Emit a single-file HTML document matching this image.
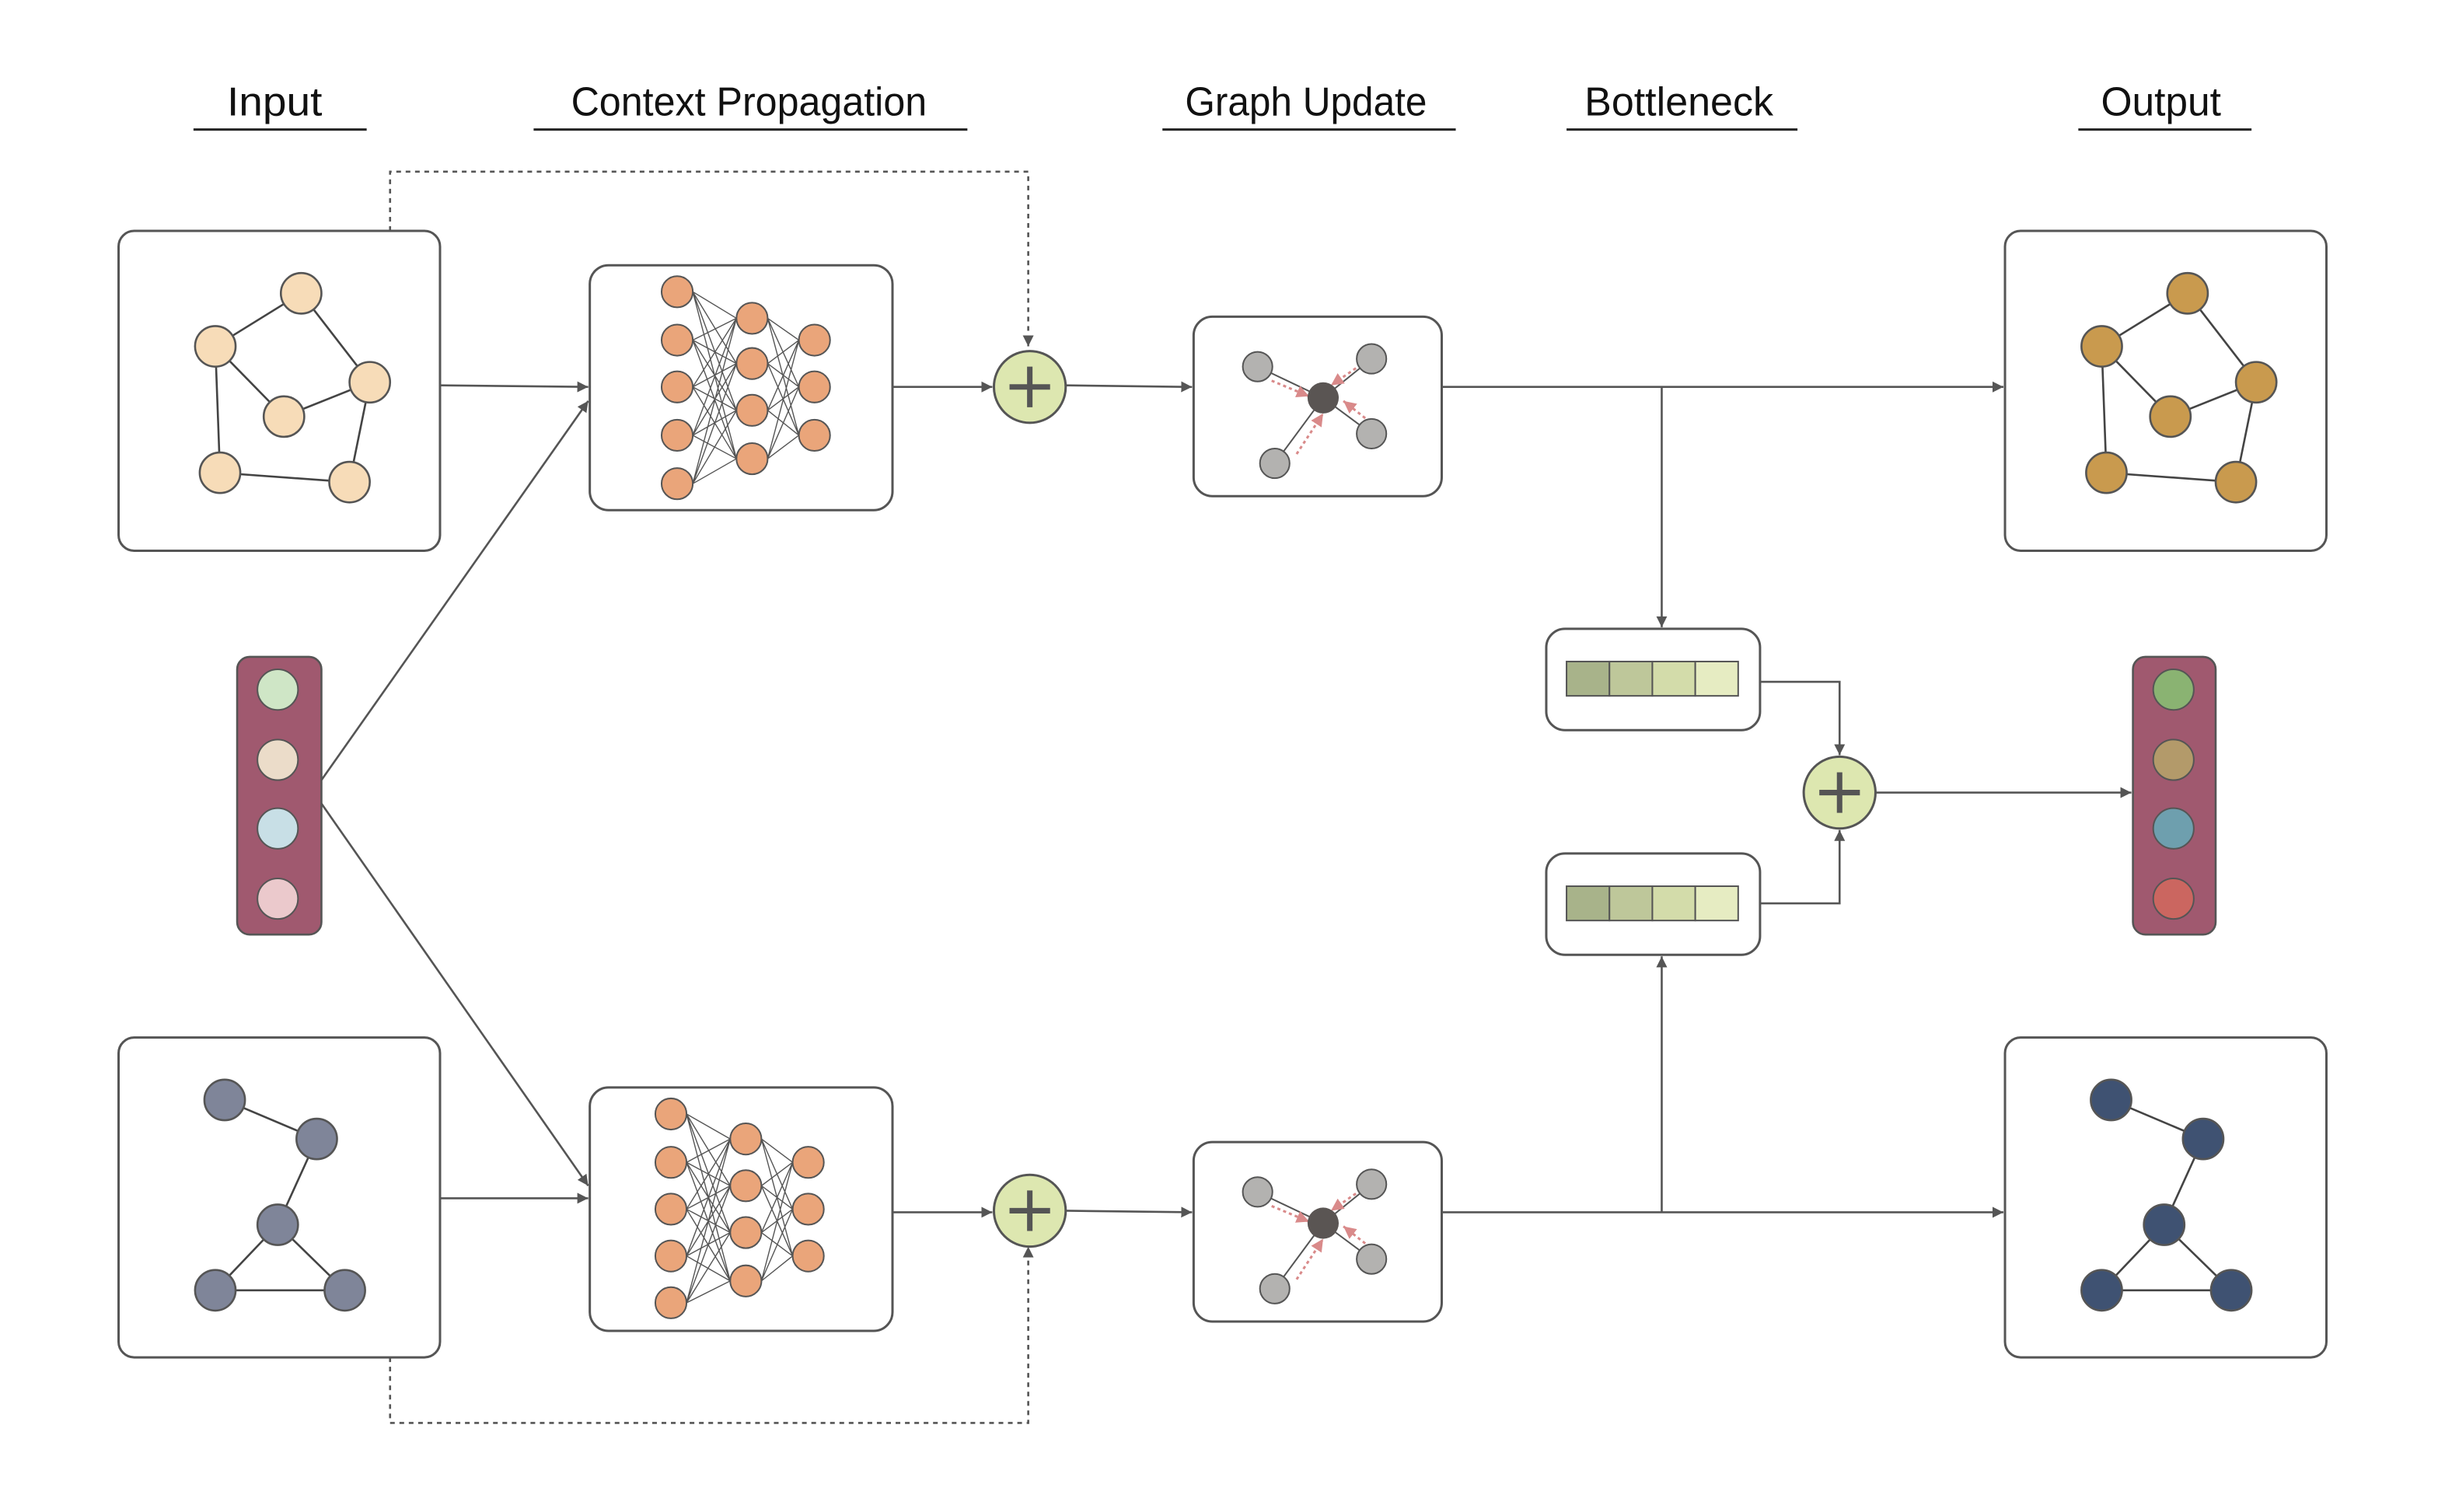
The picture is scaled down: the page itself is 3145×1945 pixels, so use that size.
<!DOCTYPE html>
<html><head><meta charset="utf-8"><style>html,body{margin:0;padding:0;background:#fff;}svg{display:block}</style></head>
<body>
<svg width="3145" height="1945" viewBox="0 0 1567 969.1" xmlns="http://www.w3.org/2000/svg">
<defs>
<marker id="a" viewBox="0 0 10 10" refX="10" refY="5" markerWidth="7" markerHeight="7" markerUnits="userSpaceOnUse" orient="auto"><path d="M0,0L10,5L0,10z" fill="#555"/></marker>
<marker id="r" viewBox="0 0 10 10" refX="10" refY="5" markerWidth="8" markerHeight="8" markerUnits="userSpaceOnUse" orient="auto"><path d="M0,0L10,5L0,10z" fill="#d98a8a"/></marker>
</defs>
<g font-family="'Liberation Sans Narrow','Liberation Sans',sans-serif" font-size="26" fill="#111" text-anchor="middle">
<text x="176" y="74" textLength="61" lengthAdjust="spacingAndGlyphs">Input</text>
<text x="480" y="74" textLength="228" lengthAdjust="spacingAndGlyphs">Context Propagation</text>
<text x="837" y="74" textLength="155" lengthAdjust="spacingAndGlyphs">Graph Update</text>
<text x="1076" y="74" textLength="121" lengthAdjust="spacingAndGlyphs">Bottleneck</text>
<text x="1385" y="74" textLength="77" lengthAdjust="spacingAndGlyphs">Output</text>
</g>
<g stroke="#222" stroke-width="1.5">
<line x1="124" y1="83" x2="235" y2="83"/><line x1="342" y1="83" x2="620" y2="83"/><line x1="745" y1="83" x2="933" y2="83"/><line x1="1004" y1="83" x2="1152" y2="83"/><line x1="1332" y1="83" x2="1443" y2="83"/>
</g>
<g stroke="#555" stroke-width="1.3" fill="none">
<path d="M250,148V110H659V222" stroke-dasharray="3,3" marker-end="url(#a)"/>
<path d="M250,870V912H659V799" stroke-dasharray="3,3" marker-end="url(#a)"/>
<line x1="282" y1="247" x2="377" y2="248" marker-end="url(#a)"/>
<line x1="206" y1="500" x2="377" y2="257" marker-end="url(#a)"/>
<line x1="206" y1="515" x2="377" y2="760" marker-end="url(#a)"/>
<line x1="282" y1="768" x2="377" y2="768" marker-end="url(#a)"/>
<line x1="572" y1="248" x2="636" y2="248" marker-end="url(#a)"/>
<line x1="572" y1="777" x2="636" y2="777" marker-end="url(#a)"/>
<line x1="683" y1="247" x2="764" y2="248" marker-end="url(#a)"/>
<line x1="683" y1="776" x2="764" y2="777" marker-end="url(#a)"/>
<line x1="924" y1="248" x2="1284" y2="248" marker-end="url(#a)"/>
<line x1="924" y1="777" x2="1284" y2="777" marker-end="url(#a)"/>
<line x1="1065" y1="248" x2="1065" y2="402" marker-end="url(#a)"/>
<line x1="1065" y1="777" x2="1065" y2="613" marker-end="url(#a)"/>
<path d="M1128,437H1179V484" marker-end="url(#a)"/>
<path d="M1128,579H1179V532" marker-end="url(#a)"/>
<line x1="1202" y1="508" x2="1366" y2="508" marker-end="url(#a)"/>
</g>
<g fill="#fff" stroke="#555" stroke-width="1.5">
<rect x="76" y="148" width="206" height="205" rx="10"/>
<rect x="76" y="665" width="206" height="205" rx="10"/>
<rect x="1285" y="148" width="206" height="205" rx="10"/>
<rect x="1285" y="665" width="206" height="205" rx="10"/>
<rect x="378" y="170" width="194" height="157" rx="12"/>
<rect x="378" y="697" width="194" height="156" rx="12"/>
<rect x="765" y="203" width="159" height="115" rx="12"/>
<rect x="765" y="732" width="159" height="115" rx="12"/>
<rect x="991" y="403" width="137" height="65" rx="12"/>
<rect x="991" y="547" width="137" height="65" rx="12"/>
</g>
<g stroke="#444" stroke-width="1.3">
<path d="M193,188L138,222M193,188L237,245M138,222L182,267M182,267L237,245M138,222L141,303M141,303L224,309M237,245L224,309"/>
<path transform="translate(1209,0)" d="M193,188L138,222M193,188L237,245M138,222L182,267M182,267L237,245M138,222L141,303M141,303L224,309M237,245L224,309"/>
<path d="M144,705L203,730M203,730L178,785M178,785L138,827M178,785L221,827M138,827L221,827"/>
<path transform="translate(1209,0)" d="M144,705L203,730M203,730L178,785M178,785L138,827M178,785L221,827M138,827L221,827"/>
</g>
<g stroke="#555" stroke-width="1.3" fill="#f7dcb8">
<circle cx="193" cy="188" r="13"/><circle cx="138" cy="222" r="13"/><circle cx="237" cy="245" r="13"/><circle cx="182" cy="267" r="13"/><circle cx="141" cy="303" r="13"/><circle cx="224" cy="309" r="13"/>
</g>
<g stroke="#555" stroke-width="1.3" fill="#c99a4e" transform="translate(1209,0)">
<circle cx="193" cy="188" r="13"/><circle cx="138" cy="222" r="13"/><circle cx="237" cy="245" r="13"/><circle cx="182" cy="267" r="13"/><circle cx="141" cy="303" r="13"/><circle cx="224" cy="309" r="13"/>
</g>
<g stroke="#555" stroke-width="1.3" fill="#7f8599">
<circle cx="144" cy="705" r="13"/><circle cx="203" cy="730" r="13"/><circle cx="178" cy="785" r="13"/><circle cx="138" cy="827" r="13"/><circle cx="221" cy="827" r="13"/>
</g>
<g stroke="#555" stroke-width="1.3" fill="#3f5272" transform="translate(1209,0)">
<circle cx="144" cy="705" r="13"/><circle cx="203" cy="730" r="13"/><circle cx="178" cy="785" r="13"/><circle cx="138" cy="827" r="13"/><circle cx="221" cy="827" r="13"/>
</g>
<rect x="152" y="421" width="54" height="178" rx="8" fill="#a0596f" stroke="#555" stroke-width="1.3"/>
<g stroke="#555" stroke-width="1"><circle cx="178" cy="442" r="13" fill="#cfe6c6"/><circle cx="178" cy="487" r="13" fill="#ebdcc9"/><circle cx="178" cy="531" r="13" fill="#c8dfe6"/><circle cx="178" cy="576" r="13" fill="#ebc9cc"/></g>
<rect x="1367" y="421" width="53" height="178" rx="8" fill="#a0596f" stroke="#555" stroke-width="1.3"/>
<g stroke="#555" stroke-width="1"><circle cx="1393" cy="442" r="13" fill="#8ab372"/><circle cx="1393" cy="487" r="13" fill="#b39a6a"/><circle cx="1393" cy="531" r="13" fill="#6e9fae"/><circle cx="1393" cy="576" r="13" fill="#cb6660"/></g>
<g stroke="#555" stroke-width="0.7">
<path d="M444,187L472,204M444,187L472,233M444,187L472,263M444,187L472,294M444,218L472,204M444,218L472,233M444,218L472,263M444,218L472,294M444,248L472,204M444,248L472,233M444,248L472,263M444,248L472,294M444,279L472,204M444,279L472,233M444,279L472,263M444,279L472,294M444,310L472,204M444,310L472,233M444,310L472,263M444,310L472,294M492,204L512,218M492,204L512,248M492,204L512,279M492,233L512,218M492,233L512,248M492,233L512,279M492,263L512,218M492,263L512,248M492,263L512,279M492,294L512,218M492,294L512,248M492,294L512,279"/>
<path d="M440,714L468,730M440,714L468,760M440,714L468,790M440,714L468,821M440,745L468,730M440,745L468,760M440,745L468,790M440,745L468,821M440,775L468,730M440,775L468,760M440,775L468,790M440,775L468,821M440,805L468,730M440,805L468,760M440,805L468,790M440,805L468,821M440,835L468,730M440,835L468,760M440,835L468,790M440,835L468,821M488,730L508,745M488,730L508,775M488,730L508,805M488,760L508,745M488,760L508,775M488,760L508,805M488,790L508,745M488,790L508,775M488,790L508,805M488,821L508,745M488,821L508,775M488,821L508,805"/>
</g>
<g fill="#eaa57a" stroke="#555" stroke-width="1">
<circle cx="434" cy="187" r="10"/><circle cx="434" cy="218" r="10"/><circle cx="434" cy="248" r="10"/><circle cx="434" cy="279" r="10"/><circle cx="434" cy="310" r="10"/>
<circle cx="482" cy="204" r="10"/><circle cx="482" cy="233" r="10"/><circle cx="482" cy="263" r="10"/><circle cx="482" cy="294" r="10"/>
<circle cx="522" cy="218" r="10"/><circle cx="522" cy="248" r="10"/><circle cx="522" cy="279" r="10"/>
<circle cx="430" cy="714" r="10"/><circle cx="430" cy="745" r="10"/><circle cx="430" cy="775" r="10"/><circle cx="430" cy="805" r="10"/><circle cx="430" cy="835" r="10"/>
<circle cx="478" cy="730" r="10"/><circle cx="478" cy="760" r="10"/><circle cx="478" cy="790" r="10"/><circle cx="478" cy="821" r="10"/>
<circle cx="518" cy="745" r="10"/><circle cx="518" cy="775" r="10"/><circle cx="518" cy="805" r="10"/>
</g>
<g id="gu">
<path d="M806,235L848,255M879,230L848,255M879,278L848,255M817,297L848,255" stroke="#555" stroke-width="1"/>
<g stroke="#d98a8a" stroke-width="1.5" stroke-dasharray="2,2" fill="none">
<line x1="815" y1="244" x2="839" y2="254" marker-end="url(#r)"/>
<line x1="869" y1="236" x2="853" y2="247" marker-end="url(#r)"/>
<line x1="875" y1="268" x2="861" y2="257" marker-end="url(#r)"/>
<line x1="831" y1="291" x2="848" y2="265" marker-end="url(#r)"/>
</g>
<g fill="#b3b2b0" stroke="#555" stroke-width="1"><circle cx="806" cy="235" r="9.5"/><circle cx="879" cy="230" r="9.5"/><circle cx="879" cy="278" r="9.5"/><circle cx="817" cy="297" r="9.5"/></g>
<circle cx="848" cy="255" r="10" fill="#5a5553"/>
</g>
<use href="#gu" transform="translate(0,529)"/>
<g stroke="#555" stroke-width="1">
<rect x="1004" y="424" width="27.5" height="22" fill="#a8b38a"/><rect x="1031.5" y="424" width="27.5" height="22" fill="#bec79a"/><rect x="1059" y="424" width="27.5" height="22" fill="#d3dcaa"/><rect x="1086.5" y="424" width="27.5" height="22" fill="#e6ecc2"/>
<rect x="1004" y="568" width="27.5" height="22" fill="#a8b38a"/><rect x="1031.5" y="568" width="27.5" height="22" fill="#bec79a"/><rect x="1059" y="568" width="27.5" height="22" fill="#d3dcaa"/><rect x="1086.5" y="568" width="27.5" height="22" fill="#e6ecc2"/>
</g>
<g fill="#dde7b0" stroke="#555" stroke-width="1.5">
<circle cx="660" cy="248" r="23"/><circle cx="660" cy="776" r="23"/><circle cx="1179" cy="508" r="23"/>
</g>
<g stroke="#555" stroke-width="3.5">
<path d="M647,248H673M660,235V261"/><path d="M647,776H673M660,763V789"/><path d="M1166,508H1192M1179,495V521"/>
</g>
</svg>
</body></html>
